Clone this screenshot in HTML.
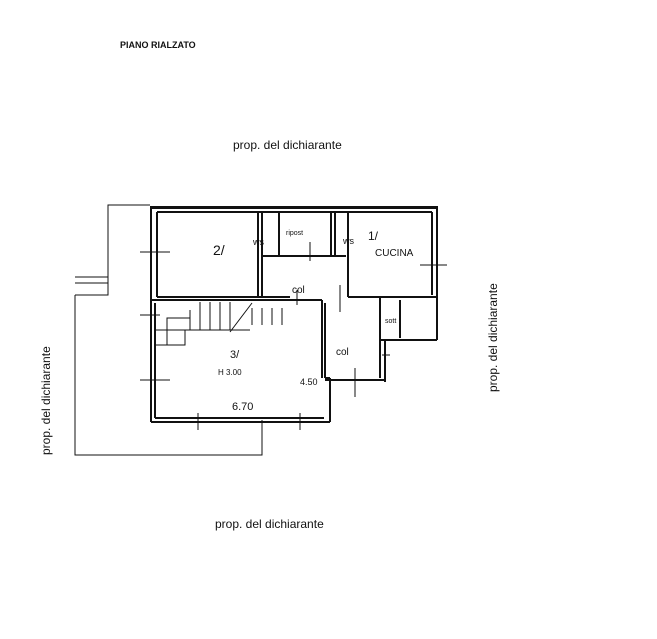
<!DOCTYPE html>
<html><head><meta charset="utf-8"><style>
html,body{margin:0;padding:0;background:#fff;}
svg{display:block}
text{font-family:"Liberation Sans",sans-serif;fill:#111}
</style></head><body>
<svg width="657" height="639" viewBox="0 0 657 639" xmlns="http://www.w3.org/2000/svg">
<rect width="657" height="639" fill="#fff"/>
<text x="120" y="48" font-size="9" font-weight="bold">PIANO RIALZATO</text>
<text x="233" y="149" font-size="12" font-family="Liberation Serif">prop. del dichiarante</text>
<text x="215" y="528" font-size="12" font-family="Liberation Serif">prop. del dichiarante</text>
<text transform="translate(50,455) rotate(-90)" font-size="12" font-family="Liberation Serif">prop. del dichiarante</text>
<text transform="translate(497,392) rotate(-90)" font-size="12" font-family="Liberation Serif">prop. del dichiarante</text>

<g fill="none" stroke="#111" stroke-width="1">
<!-- terrace thin lines -->
<polyline points="150,205 108,205 108,295 75,295"/>
<polyline points="75,283 108,283"/>
<polyline points="75,277 108,277"/>
<polyline points="75,295 75,455 262,455 262,420"/>
<!-- stairs -->
<line x1="155" y1="330" x2="250" y2="330"/>
<line x1="190" y1="310" x2="190" y2="330"/>
<line x1="200" y1="302" x2="200" y2="330"/>
<line x1="210" y1="302" x2="210" y2="330"/>
<line x1="220" y1="302" x2="220" y2="330"/>
<line x1="230" y1="302" x2="230" y2="330"/>
<polyline points="167,345 167,318 190,318"/>
<polyline points="155,345 185,345 185,330"/>
<line x1="230" y1="332" x2="252" y2="303"/>
<line x1="252" y1="308" x2="252" y2="325"/>
<line x1="262" y1="308" x2="262" y2="325"/>
<line x1="272" y1="308" x2="272" y2="325"/>
<line x1="282" y1="308" x2="282" y2="325"/>
</g>

<!-- walls -->
<g fill="none" stroke="#111" stroke-width="2">
<rect x="151" y="207" width="286" height="1"/>
<line x1="151" y1="207" x2="151" y2="300"/>
<line x1="157" y1="212" x2="157" y2="297"/>
<line x1="157" y1="212" x2="432" y2="212"/>
<line x1="437" y1="207" x2="437" y2="340"/>
<line x1="432" y1="212" x2="432" y2="295"/>
<line x1="157" y1="297" x2="290" y2="297"/>
<line x1="258" y1="212" x2="258" y2="297"/>
<line x1="262" y1="212" x2="262" y2="297"/>
<line x1="279" y1="212" x2="279" y2="256"/>
<line x1="331" y1="212" x2="331" y2="256"/>
<line x1="335" y1="212" x2="335" y2="256"/>
<line x1="262" y1="256" x2="346" y2="256"/>
<line x1="348" y1="212" x2="348" y2="297"/>
<line x1="348" y1="297" x2="437" y2="297"/>
<line x1="380" y1="297" x2="380" y2="378"/>
<line x1="400" y1="300" x2="400" y2="338"/>
<line x1="380" y1="340" x2="437" y2="340"/>
<line x1="151" y1="300" x2="322" y2="300"/>
<line x1="155" y1="303" x2="155" y2="418"/>
<line x1="151" y1="300" x2="151" y2="422"/>
<line x1="151" y1="422" x2="330" y2="422"/>
<line x1="155" y1="418" x2="324" y2="418"/>
<line x1="322" y1="300" x2="322" y2="378"/>
<line x1="325" y1="303" x2="325" y2="378"/>
<line x1="325" y1="378" x2="330" y2="378"/>
<line x1="330" y1="378" x2="330" y2="422"/>
<line x1="325" y1="380" x2="385" y2="380"/>
<line x1="385" y1="340" x2="385" y2="382"/>
</g>
<!-- door/window ticks -->
<g stroke="#111" stroke-width="1">
<line x1="140" y1="252" x2="170" y2="252"/>
<line x1="140" y1="380" x2="170" y2="380"/>
<line x1="140" y1="315" x2="160" y2="315"/>
<line x1="420" y1="265" x2="447" y2="265"/>
<line x1="297" y1="290" x2="297" y2="305"/>
<line x1="340" y1="285" x2="340" y2="312"/>
<line x1="198" y1="413" x2="198" y2="430"/>
<line x1="300" y1="413" x2="300" y2="430"/>
<line x1="355" y1="368" x2="355" y2="397"/>
<line x1="310" y1="242" x2="310" y2="261"/>
<line x1="382" y1="355" x2="390" y2="355"/>
</g>
<g font-size="10">
<text x="213" y="255" font-size="14">2/</text>
<text x="253" y="245" font-size="9">ws</text>
<text x="286" y="235" font-size="7">ripost</text>
<text x="343" y="244" font-size="9">ws</text>
<text x="368" y="240" font-size="12">1/</text>
<text x="375" y="256" font-size="10">CUCINA</text>
<text x="292" y="293" font-size="10">col</text>
<text x="385" y="323" font-size="7">sott</text>
<text x="336" y="355" font-size="10">col</text>
<text x="230" y="358" font-size="11">3/</text>
<text x="218" y="375" font-size="8">H 3.00</text>
<text x="300" y="385" font-size="9">4.50</text>
<text x="232" y="410" font-size="11">6.70</text>
</g>
</svg>
</body></html>
